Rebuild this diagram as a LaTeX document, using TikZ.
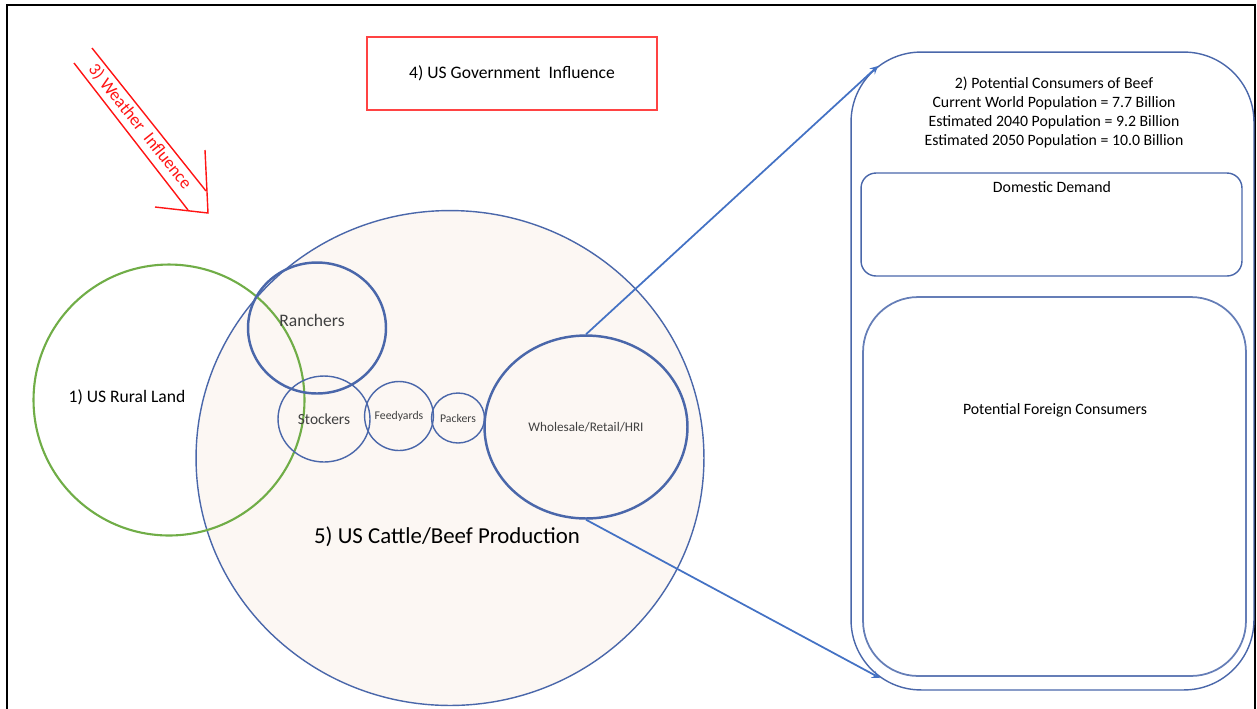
\documentclass[tikz,border=0pt]{standalone}
\usepackage{fontspec}
\setmainfont{Carlito}
\usepackage{tikz}
\usetikzlibrary{arrows,shapes,positioning,calc}
\usepackage{xcolor}
\definecolor{cbblue}{RGB}{74,103,170}
\definecolor{cbline}{RGB}{68,114,196}
\definecolor{cbgreen}{RGB}{112,173,71}
\definecolor{cbred}{RGB}{255,20,20}
\definecolor{cbfill}{RGB}{252,247,243}
\definecolor{cbtext}{RGB}{64,64,64}
\tikzstyle{ring} = [circle, draw=cbblue, line width=0.8pt, inner sep=0pt, text=cbtext]
\tikzstyle{oval} = [ellipse, draw=cbblue, line width=0.8pt, inner sep=0pt, text=cbtext]
\tikzstyle{panel} = [rectangle, draw=cbblue, line width=0.8pt]
\tikzstyle{arrow} = [line width=1pt,->,>=stealth,color=cbline]

\begin{document}
\begin{tikzpicture}[x=0.02cm, y=-0.02cm]
    \useasboundingbox (0,0) rectangle (1257,708);
    \clip (0,0) rectangle (1257,708);

    % Frame
    \draw[black, line width=1.2pt] (7,5) rectangle (1255,730);

    % Production
    \node[oval, fill=cbfill, minimum width=10.16cm, minimum height=9.9cm] (prod) at (450,458) {};
    \node[font=\fontsize{13}{15}\selectfont, text=black] (prodlbl) at (447,537) {5) US Cattle/Beef Production};

    % Rural land
    \node[ring, draw=cbgreen, line width=1.2pt, minimum width=5.42cm] (land) at (169,400) {};
    \node[text=black, font=\fontsize{10}{12}\selectfont] (landlbl) at (127,397) {1) US Rural Land};

    % Sectors
    \node[oval, line width=1.4pt, minimum width=2.76cm, minimum height=2.62cm] (ranch) at (317,328) {};
    \node[text=cbtext, font=\fontsize{10}{12}\selectfont] (ranchlbl) at (312,320) {Ranchers};
    \node[oval, minimum width=1.84cm, minimum height=1.72cm,
          font=\fontsize{8.8}{10}\selectfont] (stock) at (324,419) {Stockers};
    \node[oval, minimum width=1.26cm, minimum height=1.38cm,
          font=\fontsize{6.7}{8}\selectfont] (feed) at (399,416) {Feedyards};
    \node[oval, minimum width=1.06cm, minimum height=1.0cm,
          font=\fontsize{6.7}{8}\selectfont] (pack) at (458,418) {Packers};
    \node[oval, line width=1.4pt, minimum width=4.06cm, minimum height=3.66cm,
          font=\fontsize{7.5}{9}\selectfont] (whole) at (586,427) {Wholesale/Retail/HRI};

    % Government
    \node[rectangle, draw=cbred!80, line width=0.8pt, minimum width=5.8cm, minimum height=1.46cm,
          font=\fontsize{10}{12}\selectfont, text=black] (gov) at (512,73.5) {4) US Government\ \ Influence};

    % Weather
    \draw[cbred, line width=0.8pt] (92,48) -- (206,191);
    \draw[cbred, line width=0.8pt] (74,63) -- (188,210);
    \draw[cbred, line width=0.8pt] (155,207) -- (208,213) -- (205,150);
    \node[text=cbred, rotate=-51.4, font=\fontsize{10}{12}\selectfont] (weather) at (140,127) {3) Weather\ \ Influence};

    % Consumers
    \node[panel, minimum width=8.06cm, minimum height=12.76cm, rounded corners=1.4cm] (cons) at (1052.5,371) {};
    \node[align=center, text=black, font=\fontsize{9}{10.8}\selectfont] (conslbl) at (1054,112.5)
        {2) Potential Consumers of Beef\\Current World Population = 7.7 Billion\\
         Estimated 2040 Population = 9.2 Billion\\Estimated 2050 Population = 10.0 Billion};
    \node[panel, minimum width=7.62cm, minimum height=2.06cm, rounded corners=0.3cm] (dom) at (1051.5,224.5) {};
    \node[text=black, font=\fontsize{9}{11}\selectfont] (domlbl) at (1052,187) {Domestic Demand};
    \node[panel, draw=cbblue!85, line width=1pt, minimum width=7.66cm, minimum height=7.58cm, rounded corners=1.1cm] (for) at (1054.5,486.5) {};
    \node[text=black, font=\fontsize{9}{11}\selectfont] (forlbl) at (1055,410) {Potential Foreign Consumers};

    % Connectors
    \coordinate (constop) at (878,66);
    \coordinate (consbot) at (880,678);
    \draw[arrow] (whole.north) -- (constop);
    \draw[arrow] (whole.south) -- (consbot);
\end{tikzpicture}
\end{document}
